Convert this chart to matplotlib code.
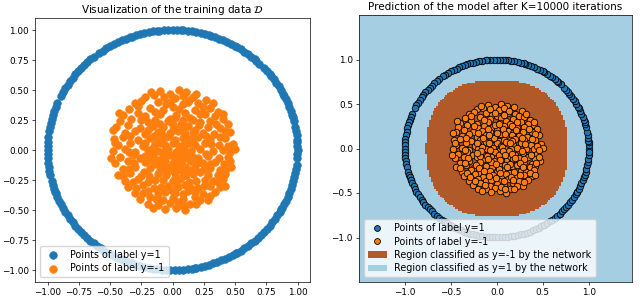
import numpy as np
import matplotlib
matplotlib.use("Agg")
import matplotlib.pyplot as plt
from matplotlib.patches import Patch
from matplotlib.lines import Line2D

# ---------------- data ----------------
# angles (degrees) of the points with label y=1 (on the unit circle)
pos_angles_deg = [0, 2, 4, 5, 7, 9, 11, 14, 16, 17, 19, 21, 23, 25, 27, 28, 30, 32, 34, 36, 38, 39,
                  41, 43, 46, 48, 49, 51, 53, 55, 57, 59, 60, 62, 64, 66, 68, 70, 72, 73, 75, 77, 79,
                  81, 83, 85, 86, 88, 90, 92, 94, 96, 97, 99, 101, 103, 105, 107, 109, 110, 112, 114,
                  116, 118, 120, 122, 124, 126, 129, 131, 133, 135, 137, 139, 141, 143, 145, 147, 149,
                  151, 153, 157, 159, 161, 163, 165, 167, 169, 171, 174, 176, 178, 180, 182, 184, 186,
                  188, 190, 192, 195, 197, 199, 200.5, 201, 203, 205, 207, 209, 211, 213, 215, 217, 219,
                  221, 223, 225, 227, 229, 231, 233, 235, 235.5, 237, 239, 241, 243, 245, 247, 249, 251,
                  253, 255, 257, 259, 261, 263, 265, 267, 269, 271, 273, 275, 277, 279, 280.5, 281, 283,
                  285, 287, 289, 291, 293, 295, 297, 299, 300.5, 301, 303, 305, 307, 309, 311, 313, 315,
                  317, 319, 321, 323, 325, 327, 329, 330.5, 331, 333, 335, 337, 339, 341, 343, 345, 347,
                  349, 351, 353, 356, 358]
pos_radius = 1.0

# points with label y=-1 (inner cluster)
neg_points = [
    (-0.10, 0.49), (-0.02, 0.47), (0.05, 0.50), (0.11, 0.48),
    (-0.22, 0.44), (-0.15, 0.46), (0.02, 0.43), (0.08, 0.45), (0.16, 0.44), (0.27, 0.42),
    (-0.30, 0.39), (-0.25, 0.41), (-0.12, 0.40), (-0.05, 0.38), (0.12, 0.40), (0.20, 0.39), (0.24, 0.36),
    (-0.35, 0.34), (-0.18, 0.35), (-0.08, 0.33), (0.00, 0.36), (0.05, 0.34), (0.18, 0.33), (0.30, 0.35), (0.36, 0.32),
    (-0.40, 0.29), (-0.28, 0.31), (-0.22, 0.28), (-0.10, 0.30), (0.03, 0.29), (0.10, 0.31), (0.14, 0.27), (0.26, 0.30), (0.34, 0.28),
    (-0.42, 0.24), (-0.33, 0.26), (-0.20, 0.23), (-0.14, 0.25), (-0.04, 0.24), (0.08, 0.25), (0.22, 0.23), (0.30, 0.24), (0.40, 0.26), (0.44, 0.22),
    (-0.45, 0.19), (-0.36, 0.21), (-0.26, 0.18), (-0.16, 0.20), (-0.08, 0.19), (0.00, 0.21), (0.06, 0.18), (0.12, 0.20), (0.18, 0.17), (0.28, 0.19), (0.38, 0.18),
    (-0.38, 0.14), (-0.30, 0.16), (-0.22, 0.13), (-0.12, 0.15), (-0.02, 0.14), (0.04, 0.16), (0.10, 0.13), (0.16, 0.15), (0.24, 0.14), (0.33, 0.13), (0.46, 0.15),
    (-0.47, 0.09), (-0.40, 0.11), (-0.28, 0.08), (-0.18, 0.10), (-0.10, 0.09), (-0.05, 0.11), (0.02, 0.08), (0.08, 0.10), (0.14, 0.09), (0.20, 0.11), (0.30, 0.09), (0.42, 0.10),
    (-0.44, 0.04), (-0.34, 0.06), (-0.24, 0.03), (-0.14, 0.05), (-0.06, 0.04), (0.00, 0.06), (0.05, 0.03), (0.11, 0.05), (0.18, 0.04), (0.26, 0.06), (0.37, 0.04), (0.48, 0.05),
    (-0.48, -0.01), (-0.38, 0.01), (-0.30, -0.02), (-0.20, 0.00), (-0.12, -0.01), (-0.04, 0.01), (0.03, -0.02), (0.09, 0.00), (0.15, -0.01), (0.22, 0.01), (0.32, -0.01), (0.40, 0.00), (0.50, 0.01),
    (-0.42, -0.06), (-0.32, -0.04), (-0.26, -0.07), (-0.16, -0.05), (-0.08, -0.06), (-0.02, -0.04), (0.04, -0.06), (0.12, -0.05), (0.20, -0.07), (0.28, -0.05), (0.44, -0.06),
    (-0.46, -0.11), (-0.36, -0.09), (-0.22, -0.10), (-0.14, -0.12), (-0.06, -0.09), (0.00, -0.11), (0.07, -0.10), (0.14, -0.09), (0.24, -0.11), (0.34, -0.10), (0.41, -0.12),
    (-0.40, -0.16), (-0.30, -0.14), (-0.18, -0.15), (-0.10, -0.17), (-0.03, -0.14), (0.05, -0.16), (0.10, -0.14), (0.18, -0.16), (0.30, -0.15), (0.38, -0.17), (0.47, -0.14),
    (-0.44, -0.21), (-0.34, -0.19), (-0.25, -0.22), (-0.12, -0.20), (-0.05, -0.21), (0.02, -0.19), (0.08, -0.22), (0.16, -0.20), (0.22, -0.18), (0.36, -0.21), (0.42, -0.20),
    (-0.38, -0.26), (-0.28, -0.24), (-0.20, -0.27), (-0.08, -0.25), (0.00, -0.26), (0.06, -0.24), (0.13, -0.27), (0.26, -0.25), (0.32, -0.26), (0.40, -0.24),
    (-0.36, -0.31), (-0.24, -0.29), (-0.15, -0.32), (-0.04, -0.30), (0.04, -0.31), (0.10, -0.29), (0.20, -0.32), (0.30, -0.30), (0.38, -0.31),
    (-0.30, -0.36), (-0.20, -0.34), (-0.12, -0.37), (-0.06, -0.35), (0.02, -0.36), (0.12, -0.34), (0.24, -0.37), (0.34, -0.35),
    (-0.26, -0.41), (-0.18, -0.39), (-0.08, -0.42), (0.00, -0.40), (0.08, -0.41), (0.18, -0.39), (0.28, -0.42),
    (-0.20, -0.45), (-0.12, -0.46), (-0.02, -0.44), (0.06, -0.46), (0.14, -0.45),
    (-0.06, -0.49), (0.03, -0.48), (0.10, -0.50),
    (-0.03, 0.12), (0.06, 0.02), (-0.08, -0.02), (0.02, -0.07), (0.10, 0.07), (-0.12, 0.07), (0.00, 0.17),
    (0.13, -0.03), (-0.16, 0.02), (0.05, -0.13), (-0.06, -0.15), (0.16, 0.08), (-0.02, 0.26), (0.07, 0.22),
    (-0.10, 0.22), (0.02, -0.23), (-0.09, 0.15), (0.09, -0.18), (-0.18, -0.08), (0.18, -0.12),
    (-0.17, 0.48), (0.19, 0.47), (-0.07, 0.44), (0.13, 0.42), (-0.28, 0.37), (0.32, 0.39), (-0.02, 0.40), (0.08, 0.38),
    (-0.43, 0.31), (-0.14, 0.32), (0.22, 0.30), (0.40, 0.30), (-0.25, 0.25), (0.02, 0.27), (0.16, 0.25), (0.35, 0.22),
    (-0.48, 0.17), (-0.20, 0.17), (0.09, 0.16), (0.21, 0.21), (0.42, 0.16), (-0.34, 0.12), (-0.15, 0.12), (0.27, 0.12), (0.38, 0.11),
    (-0.46, 0.06), (-0.22, 0.06), (-0.09, 0.06), (0.14, 0.06), (0.31, 0.05), (0.44, 0.03), (-0.35, -0.02), (-0.17, -0.03),
    (0.07, -0.03), (0.27, -0.03), (0.46, -0.02),
    (-0.49, -0.07), (-0.22, -0.05), (-0.11, -0.08), (0.09, -0.07), (0.16, -0.06), (0.37, -0.07), (-0.31, -0.11), (-0.10, -0.12),
    (0.03, -0.13), (0.20, -0.11), (0.30, -0.12), (0.46, -0.09),
    (-0.35, -0.16), (-0.23, -0.18), (-0.01, -0.17), (0.14, -0.17), (0.25, -0.16), (0.43, -0.16), (-0.40, -0.22), (-0.19, -0.22),
    (0.11, -0.21), (0.28, -0.21),
    (-0.32, -0.27), (-0.14, -0.25), (0.03, -0.28), (0.19, -0.26), (0.36, -0.27), (-0.29, -0.32), (-0.09, -0.31), (0.15, -0.32),
    (0.25, -0.30), (0.42, -0.30),
    (-0.24, -0.36), (-0.01, -0.33), (0.08, -0.37), (0.18, -0.35), (0.30, -0.38), (-0.13, -0.41), (0.04, -0.43), (0.22, -0.42),
    (-0.16, -0.48), (0.19, -0.45), (0.09, -0.46),
]

# network decision region (y=-1): half width of the region for each grid row (|y| of row centre)
region_row_y = [0.75, 0.73, 0.71, 0.69, 0.67, 0.65, 0.63, 0.61, 0.59, 0.57, 0.55, 0.53, 0.51, 0.49,
                0.47, 0.45, 0.43, 0.41, 0.39, 0.37, 0.35, 0.33, 0.31, 0.29, 0.27, 0.25, 0.23, 0.21,
                0.19, 0.17, 0.15, 0.13, 0.11, 0.09, 0.07, 0.05, 0.03, 0.01]
region_half_width = [0.24, 0.32, 0.37, 0.42, 0.456, 0.488, 0.516, 0.541, 0.563, 0.584, 0.602, 0.619,
                     0.634, 0.649, 0.661, 0.673, 0.684, 0.694, 0.703, 0.712, 0.719, 0.726, 0.733,
                     0.738, 0.743, 0.748, 0.752, 0.756, 0.759, 0.762, 0.764, 0.766, 0.767, 0.768,
                     0.769, 0.77, 0.77, 0.77]
grid_step = 0.02
grid_lim = 1.5

label_pos = "Points of label y=1"
label_neg = "Points of label y=-1"
region_neg_label = "Region classified as y=-1 by the network"
region_pos_label = "Region classified as y=1 by the network"
title_left = r"Visualization of the training data $\mathcal{D}$"
title_right = "Prediction of the model after K=10000 iterations"

# ---------------- derived ----------------
ang = np.deg2rad(np.array(pos_angles_deg))
pos_x = pos_radius * np.cos(ang)
pos_y = pos_radius * np.sin(ang)
neg_x = np.array([p[0] for p in neg_points])
neg_y = np.array([p[1] for p in neg_points])

edges = np.linspace(-grid_lim, grid_lim, int(round(2 * grid_lim / grid_step)) + 1)
centers = 0.5 * (edges[:-1] + edges[1:])
row_keys = np.array(region_row_y)
row_hw = np.array(region_half_width)
Z = np.zeros((len(centers), len(centers)))
for i, yc in enumerate(centers):
    j = np.argmin(np.abs(row_keys - abs(yc)))
    if abs(row_keys[j] - abs(yc)) < grid_step / 2:
        Z[i, :] = (np.abs(centers) <= row_hw[j]).astype(float)

# ---------------- figure ----------------
fs_tick = 6.4
fs_legend = 6.9
fs_title = 7.5
plt.rcParams.update({
    "font.size": fs_tick,
    "xtick.labelsize": fs_tick,
    "ytick.labelsize": fs_tick,
    "xtick.major.size": 2.2,
    "ytick.major.size": 2.2,
    "xtick.major.width": 0.5,
    "ytick.major.width": 0.5,
    "xtick.major.pad": 2.2,
    "ytick.major.pad": 2.2,
    "axes.linewidth": 0.5,
    "axes.titlesize": fs_title,
    "axes.titlepad": 3.5,
    "legend.fontsize": fs_legend,
})

fig = plt.figure(figsize=(6.4, 2.97), dpi=100)
ax1 = fig.add_axes([35 / 640, 15 / 297, 275 / 640, 264 / 297])
ax2 = fig.add_axes([359 / 640, 15 / 297, 273 / 640, 267 / 297])

# left panel
ax1.scatter(pos_x, pos_y, s=30, c="#1f77b4", edgecolors="#1f77b4", linewidths=0.5, label=label_pos)
ax1.scatter(neg_x, neg_y, s=30, c="#ff7f0e", edgecolors="#ff7f0e", linewidths=0.5, label=label_neg)
ax1.set_xlim(-1.1, 1.1)
ax1.set_ylim(-1.1, 1.1)
ax1.set_xticks(np.arange(-1.0, 1.01, 0.25))
ax1.set_yticks(np.arange(-1.0, 1.01, 0.25))
ax1.set_title(title_left)
ax1.legend(loc="lower left", handletextpad=0.8, borderpad=0.4, labelspacing=0.4)

# right panel
ax2.pcolormesh(edges, edges, Z, cmap="Paired", vmin=0, vmax=1, shading="flat")
ax2.scatter(pos_x, pos_y, s=22, c="#1f77b4", edgecolors="k", linewidths=0.6, label=label_pos)
ax2.scatter(neg_x, neg_y, s=22, c="#ff7f0e", edgecolors="k", linewidths=0.6, label=label_neg)
ax2.set_xlim(-grid_lim, grid_lim - 0.03)
ax2.set_ylim(-grid_lim, grid_lim)
ax2.set_xticks([-1.0, -0.5, 0.0, 0.5, 1.0])
ax2.set_yticks([-1.0, -0.5, 0.0, 0.5, 1.0])
ax2.set_title(title_right)
cmap = plt.get_cmap("Paired")
handles = [
    Line2D([], [], marker="o", ls="", markerfacecolor="#1f77b4", markeredgecolor="k",
           markeredgewidth=0.6, markersize=4.2),
    Line2D([], [], marker="o", ls="", markerfacecolor="#ff7f0e", markeredgecolor="k",
           markeredgewidth=0.6, markersize=4.2),
    Patch(facecolor=cmap(1.0)),
    Patch(facecolor=cmap(0.0)),
]
ax2.legend(handles, [label_pos, label_neg, region_neg_label, region_pos_label],
           loc="lower left", handletextpad=0.8, borderpad=0.4, labelspacing=0.35)

fig.savefig("out.png", dpi=100)
